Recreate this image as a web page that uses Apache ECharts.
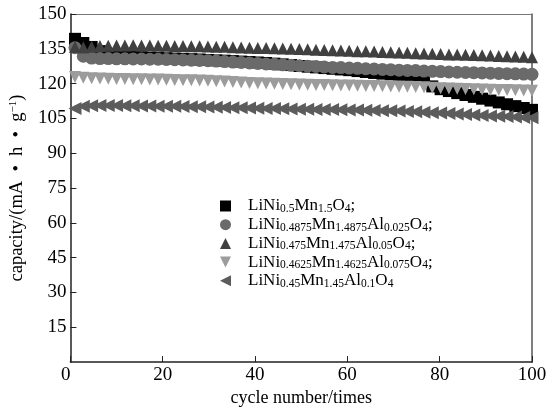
<!DOCTYPE html>
<html>
<head>
<meta charset="utf-8">
<script src="https://cdn.jsdelivr.net/npm/echarts@6/dist/echarts.min.js"></script>
<style>
  html, body { margin: 0; padding: 0; background: #fff; }
  #chart { width: 554px; height: 412px; }
</style>
</head>
<body>
<div id="chart"></div>
<script>
// cycle numbers of the plotted points
const cycles = [1, 2.8, 4.6, 6.4, 8.2, 10, 11.8, 13.6, 15.4, 17.2, 19, 20.8, 22.6, 24.4, 26.2, 28,
  29.8, 31.6, 33.4, 35.2, 37, 38.8, 40.6, 42.4, 44.2, 46, 47.8, 49.6, 51.4, 53.2, 55, 56.8,
  58.6, 60.4, 62.2, 64, 65.8, 67.6, 69.4, 71.2, 73, 74.8, 76.6, 78.4, 80.2, 82, 83.8, 85.6,
  87.4, 89.2, 91, 92.8, 94.6, 96.4, 98.2, 100]

const names = [
  'LiNi0.5Mn1.5O4;',
  'LiNi0.4875Mn1.4875Al0.025O4;',
  'LiNi0.475Mn1.475Al0.05O4;',
  'LiNi0.4625Mn1.4625Al0.075O4;',
  'LiNi0.45Mn1.45Al0.1O4'
]

const capSquare = [139.3, 137.5, 135.8, 134.0, 132.8, 132.2, 131.8, 131.6, 131.4, 131.2, 131.0, 130.9,
  130.8, 130.7, 130.5, 130.4, 130.2, 130.0, 129.9, 129.7, 129.5, 129.3, 129.1, 128.9, 128.6, 128.3,
  128.0, 127.6, 127.3, 127.0, 126.7, 126.4, 126.1, 125.8, 125.4, 125.0, 124.6, 124.3, 124.0, 123.8,
  123.6, 123.4, 123.2, 118.8, 117.6, 116.8, 115.9, 115.1, 114.3, 113.5, 112.7, 111.9, 111.1, 110.3,
  109.5, 108.7]

const capCircle = [135.5, 131.8, 131.0, 130.8, 130.8, 130.7, 130.7, 130.6, 130.6, 130.5, 130.5, 130.4,
  130.3, 130.2, 130.1, 130.0, 129.9, 129.7, 129.5, 129.3, 129.1, 128.9, 128.7, 128.5, 128.3, 128.1,
  127.9, 127.7, 127.5, 127.4, 127.2, 127.0, 126.9, 126.7, 126.6, 126.4, 126.3, 126.1, 126.0, 125.8,
  125.7, 125.6, 125.4, 125.3, 125.2, 125.0, 124.9, 124.8, 124.7, 124.6, 124.5, 124.4, 124.3, 124.2,
  124.1, 124.0]

const capTriangle = [135.8, 135.6, 135.9, 136.2, 136.3, 136.4, 136.4, 136.5, 136.4, 136.4, 136.3, 136.3,
  136.2, 136.2, 136.1, 136.1, 136.0, 135.9, 135.9, 135.7, 135.6, 135.5, 135.4, 135.3, 135.2, 135.1,
  135.0, 134.9, 134.8, 134.6, 134.5, 134.4, 134.3, 134.2, 134.0, 133.9, 133.8, 133.6, 133.5, 133.4,
  133.3, 133.1, 133.0, 132.9, 132.8, 132.6, 132.5, 132.4, 132.3, 132.2, 132.1, 131.9, 131.8, 131.7,
  131.6, 131.4]

const capDown = [122.8, 122.5, 122.3, 122.2, 122.1, 122.0, 122.0, 121.9, 121.9, 121.8, 121.8, 121.7,
  121.6, 121.5, 121.4, 121.3, 121.2, 121.0, 120.9, 120.7, 120.5, 120.3, 120.2, 120.0, 119.9, 119.8,
  119.7, 119.6, 119.5, 119.4, 119.4, 119.3, 119.2, 119.2, 119.1, 119.0, 119.0, 118.9, 118.8, 118.7,
  118.6, 118.5, 118.4, 118.2, 118.0, 117.9, 117.8, 117.7, 117.6, 117.5, 117.4, 117.3, 117.2, 117.1,
  117.0, 116.9]

const capLeft = [109.3, 110.2, 110.5, 110.6, 110.6, 110.6, 110.5, 110.5, 110.4, 110.4, 110.3, 110.2,
  110.2, 110.1, 110.0, 110.0, 109.9, 109.8, 109.7, 109.6, 109.6, 109.5, 109.4, 109.3, 109.3, 109.2,
  109.1, 109.0, 109.0, 108.9, 108.8, 108.8, 108.7, 108.6, 108.6, 108.5, 108.4, 108.3, 108.3, 108.2,
  108.0, 107.9, 107.7, 107.5, 107.3, 107.1, 106.9, 106.7, 106.5, 106.3, 106.1, 105.9, 105.8, 105.6,
  105.4, 105.3]

const font = 'Liberation Serif, Times New Roman, serif'

function pairs(values) {
  return values.map((v, i) => [cycles[i], v])
}

function scatter(name, values, symbol, size, color) {
  return {
    name: name,
    type: 'scatter',
    data: pairs(values),
    symbol: symbol,
    symbolSize: size,
    itemStyle: { color: color, opacity: 1 },
    silent: true
  }
}

const chart = echarts.init(document.getElementById('chart'))

chart.setOption({
  animation: false,
  grid: { left: 68, right: 22, top: 14, bottom: 42 },
  legend: {
    orient: 'vertical',
    left: 220,
    top: 197,
    padding: 0,
    itemWidth: 11,
    itemHeight: 11,
    itemGap: 0.7,
    data: names,
    // numbers in the formulas are subscripts
    formatter: function (name) {
      return name.replace(/(\d[\d.]*)/g, '{s|$1}')
    },
    textStyle: {
      fontFamily: font,
      fontSize: 17,
      color: '#000',
      lineHeight: 18,
      padding: [0, 0, 0, 12],
      rich: {
        s: { fontFamily: font, fontSize: 11.5, lineHeight: 6, verticalAlign: 'bottom' }
      }
    }
  },
  xAxis: [
    {
      type: 'value',
      min: 0,
      max: 100,
      interval: 20,
      name: 'cycle number/times',
      nameLocation: 'middle',
      nameGap: 20,
      nameTextStyle: { fontFamily: font, fontSize: 18, color: '#000' },
      axisLine: { lineStyle: { color: '#222', width: 1.5 } },
      axisTick: { inside: true, length: 6, lineStyle: { color: '#222' } },
      axisLabel: { fontFamily: font, fontSize: 19, color: '#000', margin: 3, alignMinLabel: 'right' },
      splitLine: { show: false }
    },
    {
      type: 'value',
      position: 'top',
      min: 0,
      max: 100,
      axisLine: { show: true, onZero: false, lineStyle: { color: '#777', width: 1 } },
      axisTick: { show: false },
      axisLabel: { show: false },
      splitLine: { show: false }
    }
  ],
  yAxis: [
    {
      type: 'value',
      min: 0,
      max: 150,
      interval: 15,
      name: 'capacity/(mA  •  h  •  g{sup|−1})',
      nameLocation: 'middle',
      nameGap: 37,
      nameTextStyle: {
        fontFamily: font,
        fontSize: 18.5,
        color: '#000',
        rich: { sup: { fontFamily: font, fontSize: 11, verticalAlign: 'top', padding: [0, 0, 7, 0] } }
      },
      axisLine: { show: true, lineStyle: { color: '#222', width: 1.5 } },
      axisTick: { inside: true, length: 6, lineStyle: { color: '#222' } },
      axisLabel: { fontFamily: font, fontSize: 19, color: '#000', margin: 4, showMinLabel: false },
      splitLine: { show: false }
    },
    {
      type: 'value',
      position: 'right',
      min: 0,
      max: 150,
      axisLine: { show: true, onZero: false, lineStyle: { color: '#555', width: 1.5 } },
      axisTick: { show: false },
      axisLabel: { show: false },
      splitLine: { show: false }
    }
  ],
  series: [
    scatter(names[0], capSquare, 'rect', 12, '#000000'),
    scatter(names[1], capCircle, 'circle', 13, '#6a6a6a'),
    scatter(names[2], capTriangle, 'triangle', 12, '#404040'),
    scatter(names[3], capDown, 'path://M0,0 L10,0 L5,10 Z', 12, '#9c9c9c'),
    scatter(names[4], capLeft, 'path://M10,0 L10,10 L0,5 Z', 13, '#5c5c5c')
  ]
})
</script>
</body>
</html>
